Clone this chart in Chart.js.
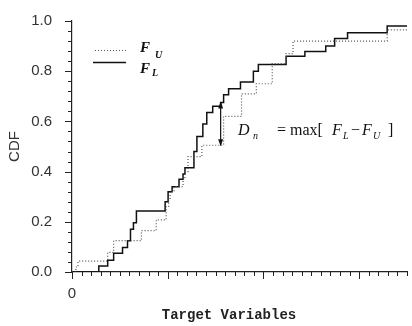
<!DOCTYPE html>
<html>
<head>
<meta charset="utf-8">
<script src="https://cdn.jsdelivr.net/npm/chart.js@4.4.1/dist/chart.umd.min.js"></script>
<style>
  html, body { margin: 0; padding: 0; background: #fff; }
</style>
</head>
<body>
<canvas id="cdf" width="412" height="326"></canvas>
<script>
// step points of the two CDFs: target variable where the step happens, CDF value after it
const lowerX = [0, 2.8, 3.73, 4.35, 5.28, 5.8, 6.11, 6.42, 6.73, 9.73, 10.04, 10.46, 11.18, 11.6, 11.8, 12.74, 13.05, 13.67, 14.08, 14.7, 15.53, 15.84, 16.36, 17.6, 18.95, 19.47, 22.37, 24.33, 26.51, 27.44, 28.79, 32.93, 35];
const lowerY = [0, 0.024, 0.047, 0.075, 0.098, 0.125, 0.17, 0.196, 0.243, 0.28, 0.32, 0.34, 0.37, 0.39, 0.415, 0.48, 0.54, 0.59, 0.635, 0.66, 0.675, 0.706, 0.73, 0.757, 0.8, 0.827, 0.86, 0.878, 0.9, 0.93, 0.953, 0.98, 0.98];
const upperX = [0, 0.41, 0.62, 3.73, 4.35, 7.25, 8.8, 9.84, 10.1, 10.25, 10.67, 11.6, 11.8, 12.12, 13.57, 15.84, 17.71, 19.26, 20.92, 22.37, 23.09, 32.93, 35];
const upperY = [0, 0.02, 0.043, 0.078, 0.125, 0.165, 0.208, 0.26, 0.29, 0.32, 0.34, 0.37, 0.4, 0.46, 0.505, 0.62, 0.71, 0.75, 0.83, 0.87, 0.92, 0.965, 0.965];
const yTickLabels = ['0.0', '0.2', '0.4', '0.6', '0.8', '1.0'];
const xTickLabels = ['0'];
// where the largest gap F_L - F_U is marked
const dnX = 15.53;
const dnTop = 0.675;
const dnBottom = 0.505;

const toPoints = (xs, ys) => xs.map((v, i) => ({ x: v, y: ys[i] }));

const line = (ctx, x1, y1, x2, y2) => {
  ctx.beginPath();
  ctx.moveTo(x1, y1);
  ctx.lineTo(x2, y2);
  ctx.stroke();
};

const extras = {
  id: 'extras',
  afterDraw(chart) {
    const { ctx } = chart;
    const x = chart.scales.x;
    const y = chart.scales.y;
    ctx.save();
    ctx.strokeStyle = '#222';
    ctx.lineWidth = 1;
    ctx.setLineDash([]);

    // tick marks, long ones every 10 on x and every 0.2 on y
    for (let v = 0; v <= 35; v++) {
      const px = Math.round(x.getPixelForValue(v)) + 0.5;
      line(ctx, px, y.bottom, px, y.bottom + (v % 10 === 0 ? 7 : 4));
    }
    for (let i = 0; i <= 25; i++) {
      const py = Math.round(y.getPixelForValue(i * 0.04)) + 0.5;
      line(ctx, x.left, py, x.left - (i % 5 === 0 ? 7 : 4), py);
    }

    // marker for D_n
    const ax = x.getPixelForValue(dnX);
    const ay1 = y.getPixelForValue(dnTop);
    const ay2 = y.getPixelForValue(dnBottom);
    ctx.strokeStyle = '#111';
    ctx.lineWidth = 1.2;
    line(ctx, ax, ay1, ax, ay2);
    ctx.fillStyle = '#111';
    ctx.beginPath();
    ctx.moveTo(ax, ay2 + 1);
    ctx.lineTo(ax - 2.5, ay2 - 6);
    ctx.lineTo(ax + 2.5, ay2 - 6);
    ctx.closePath();
    ctx.fill();
    ctx.beginPath();
    ctx.moveTo(ax, ay1 - 1);
    ctx.lineTo(ax - 2.5, ay1 + 6);
    ctx.lineTo(ax + 2.5, ay1 + 6);
    ctx.closePath();
    ctx.fill();

    // legend
    ctx.strokeStyle = '#555';
    ctx.lineWidth = 1.2;
    ctx.setLineDash([1, 2]);
    line(ctx, 95, 50.5, 128, 50.5);
    ctx.setLineDash([]);
    ctx.strokeStyle = '#111';
    ctx.lineWidth = 1.5;
    line(ctx, 93, 62.5, 126, 62.5);

    ctx.fillStyle = '#111';
    ctx.textBaseline = 'alphabetic';
    ctx.textAlign = 'left';
    const big = 'italic bold 15px "Liberation Serif"';
    const small = 'italic bold 10px "Liberation Serif"';
    ctx.font = big; ctx.fillText('F', 140, 52);
    ctx.font = small; ctx.fillText('U', 155, 58);
    ctx.font = big; ctx.fillText('F', 140, 73);
    ctx.font = small; ctx.fillText('L', 152, 76);

    // D_n = max[ F_L - F_U ]
    const it = 'italic 16px "Liberation Serif"';
    const itSmall = 'italic 10px "Liberation Serif"';
    ctx.font = it; ctx.fillText('D', 238, 135);
    ctx.font = itSmall; ctx.fillText('n', 253, 139);
    ctx.font = '16px "Liberation Serif"'; ctx.fillText('= max[', 277, 135);
    ctx.font = it; ctx.fillText('F', 332, 135);
    ctx.font = itSmall; ctx.fillText('L', 343, 139);
    ctx.font = '16px "Liberation Serif"'; ctx.fillText('\u2212', 351, 135);
    ctx.font = it; ctx.fillText('F', 362, 135);
    ctx.font = itSmall; ctx.fillText('U', 373, 139);
    ctx.font = '16px "Liberation Serif"'; ctx.fillText(']', 388, 135);

    // x axis name
    ctx.font = 'bold 14px "Liberation Mono"';
    ctx.textAlign = 'center';
    ctx.fillStyle = '#222';
    ctx.fillText('Target Variables', 229, 319);
    ctx.restore();
  }
};

new Chart(document.getElementById('cdf'), {
  type: 'line',
  data: {
    datasets: [
      {
        label: 'F_U',
        data: toPoints(upperX, upperY),
        stepped: 'before',
        borderColor: '#555',
        borderWidth: 1.2,
        borderDash: [1, 2],
        pointRadius: 0,
        fill: false,
      },
      {
        label: 'F_L',
        data: toPoints(lowerX, lowerY),
        stepped: 'before',
        borderColor: '#111',
        borderWidth: 1.5,
        pointRadius: 0,
        fill: false,
      },
    ],
  },
  options: {
    responsive: false,
    animation: false,
    devicePixelRatio: 1,
    layout: { padding: { top: 17, right: 2, left: 0, bottom: 0 } },
    plugins: { legend: { display: false }, tooltip: { enabled: false } },
    scales: {
      x: {
        type: 'linear',
        min: 0,
        max: 35,
        grid: { display: false },
        border: { display: true, color: '#222', width: 1.2 },
        ticks: {
          stepSize: 10,
          autoSkip: false,
          maxRotation: 0,
          padding: 5,
          color: '#333',
          font: { family: '"Liberation Sans"', size: 15 },
          callback: (v) => (v === 0 ? xTickLabels[0] : ''),
        },
        afterFit: (s) => { s.height = 54; },
      },
      y: {
        min: 0,
        max: 1,
        grid: { display: false },
        border: { display: true, color: '#222', width: 1.2 },
        title: {
          display: true,
          text: 'CDF',
          color: '#333',
          font: { family: '"Liberation Sans"', size: 15 },
          padding: { top: 6, bottom: 0 },
        },
        ticks: {
          stepSize: 0.2,
          padding: 12,
          color: '#333',
          font: { family: '"Liberation Sans"', size: 15 },
          callback: (v) => yTickLabels[Math.round(v * 5)],
        },
        afterFit: (s) => { s.width = 72; },
      },
    },
  },
  plugins: [extras],
});
</script>
</body>
</html>
